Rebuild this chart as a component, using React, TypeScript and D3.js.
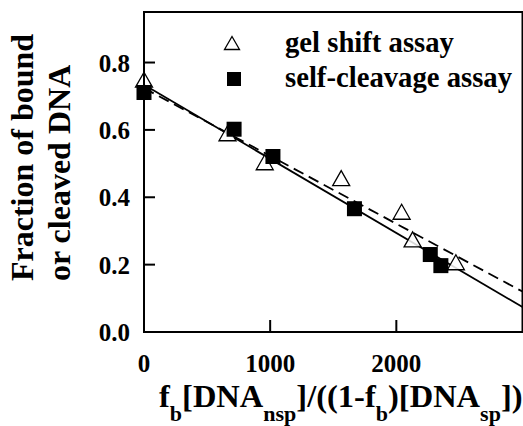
import React from "react";
import * as d3 from "d3";

const gelX = [0, 662, 957, 1563, 2042, 2129, 2472];
const gelY = [0.749, 0.59, 0.504, 0.457, 0.357, 0.275, 0.207];
const cleaveX = [0, 714, 1022, 1668, 2269, 2353];
const cleaveY = [0.711, 0.602, 0.521, 0.366, 0.23, 0.197];
const solidFitX = [0, 3000];
const solidFitY = [0.734, 0.074];
const dashFitX = [0, 3000];
const dashFitY = [0.724, 0.12];
const xTicks = [0, 1000, 2000];
const yTicks = [0, 0.2, 0.4, 0.6, 0.8];
const legendLabels = ["gel shift assay", "self-cleavage assay"];

const W = 523;
const H = 426;
const L = 144, R = 522.5, T = 12, B = 332;
const TS: React.CSSProperties = { fontFamily: "Liberation Serif", fontWeight: "bold" };

export default function App() {
  const x = d3.scaleLinear().domain([0, 3000]).range([L, R]);
  const y = d3.scaleLinear().domain([0, 0.95]).range([B, T]);
  const line = d3.line<[number, number]>().x((d) => x(d[0])).y((d) => y(d[1]));
  const solid = line(solidFitX.map((v, i) => [v, solidFitY[i]]));
  const dash = line(dashFitX.map((v, i) => [v, dashFitY[i]]));
  const tri = (cx: number, cy: number, w = 17, h = 15) =>
    `M${cx},${cy - h / 2}L${cx + w / 2},${cy + h / 2}L${cx - w / 2},${cy + h / 2}Z`;
  const sq = 15;
  return (
    <svg width={W} height={H} style={{ position: "absolute", left: 0, top: 0, background: "#fff" }}>
      <defs>
        <clipPath id="plot">
          <rect x={L} y={T} width={R - L} height={B - T} />
        </clipPath>
      </defs>
      <rect x={0} y={0} width={W} height={H} fill="#fff" />
      <g clipPath="url(#plot)">
        <path d={dash!} stroke="#000" strokeWidth={1.8} fill="none" strokeDasharray="11,6" />
        <path d={solid!} stroke="#000" strokeWidth={1.8} fill="none" />
      </g>
      {gelX.map((v, i) => (
        <path key={"g" + i} d={tri(x(v), y(gelY[i]))} fill="#fff" fillOpacity={0.85} stroke="#000" strokeWidth={1.3} />
      ))}
      {cleaveX.map((v, i) => (
        <rect key={"c" + i} x={x(v) - sq / 2} y={y(cleaveY[i]) - sq / 2} width={sq} height={sq} fill="#000" />
      ))}
      <rect x={L} y={T} width={R - L} height={B - T} fill="none" stroke="#000" strokeWidth={2} />
      {yTicks.map((t) => (
        <g key={"y" + t}>
          <line x1={L} x2={L + 11} y1={y(t)} y2={y(t)} stroke="#000" strokeWidth={2} />
          <text x={130} y={y(t) + 9} fontSize={25} textAnchor="end" style={TS}>{t.toFixed(1)}</text>
        </g>
      ))}
      {xTicks.map((t) => (
        <g key={"x" + t}>
          <line x1={x(t)} x2={x(t)} y1={B} y2={B - 12} stroke="#000" strokeWidth={2} />
          <text x={x(t)} y={372} fontSize={25} textAnchor="middle" style={TS}>{t}</text>
        </g>
      ))}
      <path d={tri(232, 43, 15, 13)} fill="#fff" stroke="#000" strokeWidth={1.3} />
      <rect x={234 - 7} y={79 - 7} width={14} height={14} fill="#000" />
      <text x={285} y={52} fontSize={28.7} style={TS}>{legendLabels[0]}</text>
      <text x={285} y={87} fontSize={28.7} style={TS}>{legendLabels[1]}</text>
      <text transform="translate(33,281) rotate(-90)" fontSize={32} style={TS}>Fraction of bound</text>
      <text transform="translate(70,281) rotate(-90)" fontSize={32} style={TS}>or cleaved DNA</text>
      <text x={159} y={407} fontSize={32.5} style={TS}>
        f<tspan dy={14} fontSize={22}>b</tspan>
        <tspan dy={-14}>[DNA</tspan>
        <tspan dy={14} fontSize={22}>nsp</tspan>
        <tspan dy={-14}>]/((1-f</tspan>
        <tspan dy={14} fontSize={22}>b</tspan>
        <tspan dy={-14}>)[DNA</tspan>
        <tspan dy={14} fontSize={22}>sp</tspan>
        <tspan dy={-14}>])</tspan>
      </text>
    </svg>
  );
}
